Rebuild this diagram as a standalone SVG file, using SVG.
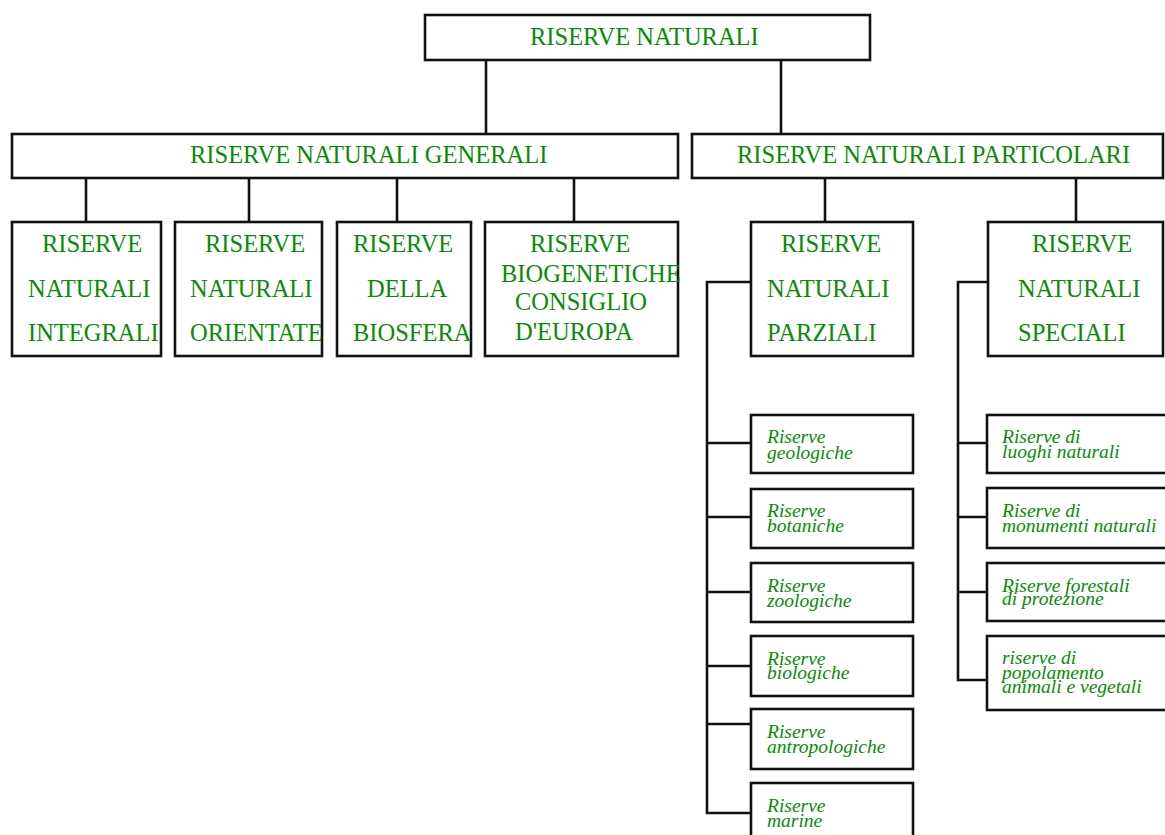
<svg xmlns="http://www.w3.org/2000/svg" width="1165" height="835" viewBox="0 0 1165 835">
<style>
.box{fill:#fff;stroke:#111;stroke-width:2.6}
.ln{fill:none;stroke:#111;stroke-width:2.6}
.t{font-family:"Liberation Serif","Times New Roman",serif;font-size:24.5px;fill:#0a8a0a}
.i{font-family:"Liberation Serif","Times New Roman",serif;font-size:19.5px;font-style:italic;fill:#0a8a0a}
</style>
<rect width="1165" height="835" fill="#fff"/>
<g id="connectors">
<path class="ln" d="M486,60V134M781,60V134"/>
<path class="ln" d="M86,178V222M249,178V222M397,178V222M574,178V222"/>
<path class="ln" d="M825,178V222M1076,178V222"/>
<path class="ln" d="M751,282H707V813H751M707,443H751M707,517H751M707,592H751M707,666H751M707,724H751"/>
<path class="ln" d="M988,282H958V680H987M958,443H987M958,517H987M958,592H987"/>
</g>
<g id="n-root"><rect class="box" x="425" y="15" width="445" height="45"/><text class="t" x="530" y="45">RISERVE NATURALI</text></g>
<g id="n-generali"><rect class="box" x="12" y="134" width="666" height="44"/><text class="t" x="190" y="163">RISERVE NATURALI GENERALI</text></g>
<g id="n-particolari"><rect class="box" x="692" y="134" width="471" height="44"/><text class="t" x="737" y="163">RISERVE NATURALI PARTICOLARI</text></g>
<g id="n-integrali"><rect class="box" x="12" y="222" width="149" height="134"/><text class="t" x="42" y="252">RISERVE</text><text class="t" x="28" y="297">NATURALI</text><text class="t" x="28" y="341">INTEGRALI</text></g>
<g id="n-orientate"><rect class="box" x="175" y="222" width="147" height="134"/><text class="t" x="205" y="252">RISERVE</text><text class="t" x="190" y="297">NATURALI</text><text class="t" x="190" y="341">ORIENTATE</text></g>
<g id="n-biosfera"><rect class="box" x="337" y="222" width="134" height="134"/><text class="t" x="353" y="252">RISERVE</text><text class="t" x="367" y="297">DELLA</text><text class="t" x="353" y="341">BIOSFERA</text></g>
<g id="n-biogenetiche"><rect class="box" x="485" y="222" width="193" height="134"/><text class="t" x="530" y="252">RISERVE</text><text class="t" x="501" y="282">BIOGENETICHE</text><text class="t" x="515" y="310">CONSIGLIO</text><text class="t" x="515" y="340">D'EUROPA</text></g>
<g id="n-parziali"><rect class="box" x="751" y="222" width="162" height="134"/><text class="t" x="781" y="252">RISERVE</text><text class="t" x="767" y="297">NATURALI</text><text class="t" x="767" y="341">PARZIALI</text></g>
<g id="n-speciali"><rect class="box" x="988" y="222" width="175" height="134"/><text class="t" x="1032" y="252">RISERVE</text><text class="t" x="1018" y="297">NATURALI</text><text class="t" x="1018" y="341">SPECIALI</text></g>
<g id="n-geologiche"><rect class="box" x="751" y="415" width="162" height="58"/><text class="i" x="767" y="443">Riserve</text><text class="i" x="767" y="459">geologiche</text></g>
<g id="n-botaniche"><rect class="box" x="751" y="489" width="162" height="59"/><text class="i" x="767" y="517">Riserve</text><text class="i" x="767" y="532">botaniche</text></g>
<g id="n-zoologiche"><rect class="box" x="751" y="563" width="162" height="59"/><text class="i" x="767" y="592">Riserve</text><text class="i" x="767" y="607">zoologiche</text></g>
<g id="n-biologiche"><rect class="box" x="751" y="636" width="162" height="60"/><text class="i" x="767" y="665">Riserve</text><text class="i" x="767" y="679">biologiche</text></g>
<g id="n-antropologiche"><rect class="box" x="751" y="709" width="162" height="60"/><text class="i" x="767" y="738">Riserve</text><text class="i" x="767" y="753">antropologiche</text></g>
<g id="n-marine"><rect class="box" x="751" y="783" width="162" height="70"/><text class="i" x="767" y="812">Riserve</text><text class="i" x="767" y="827">marine</text></g>
<g id="n-luoghi"><rect class="box" x="987" y="415" width="190" height="58"/><text class="i" x="1002" y="443">Riserve di</text><text class="i" x="1002" y="458">luoghi naturali</text></g>
<g id="n-monumenti"><rect class="box" x="987" y="488" width="190" height="60"/><text class="i" x="1002" y="517">Riserve di</text><text class="i" x="1002" y="532">monumenti naturali</text></g>
<g id="n-forestali"><rect class="box" x="987" y="563" width="190" height="58"/><text class="i" x="1002" y="592">Riserve forestali</text><text class="i" x="1002" y="605">di protezione</text></g>
<g id="n-popolamento"><rect class="box" x="987" y="636" width="190" height="74"/><text class="i" x="1002" y="664">riserve di</text><text class="i" x="1002" y="679">popolamento</text><text class="i" x="1002" y="693">animali e vegetali</text></g>
</svg>
